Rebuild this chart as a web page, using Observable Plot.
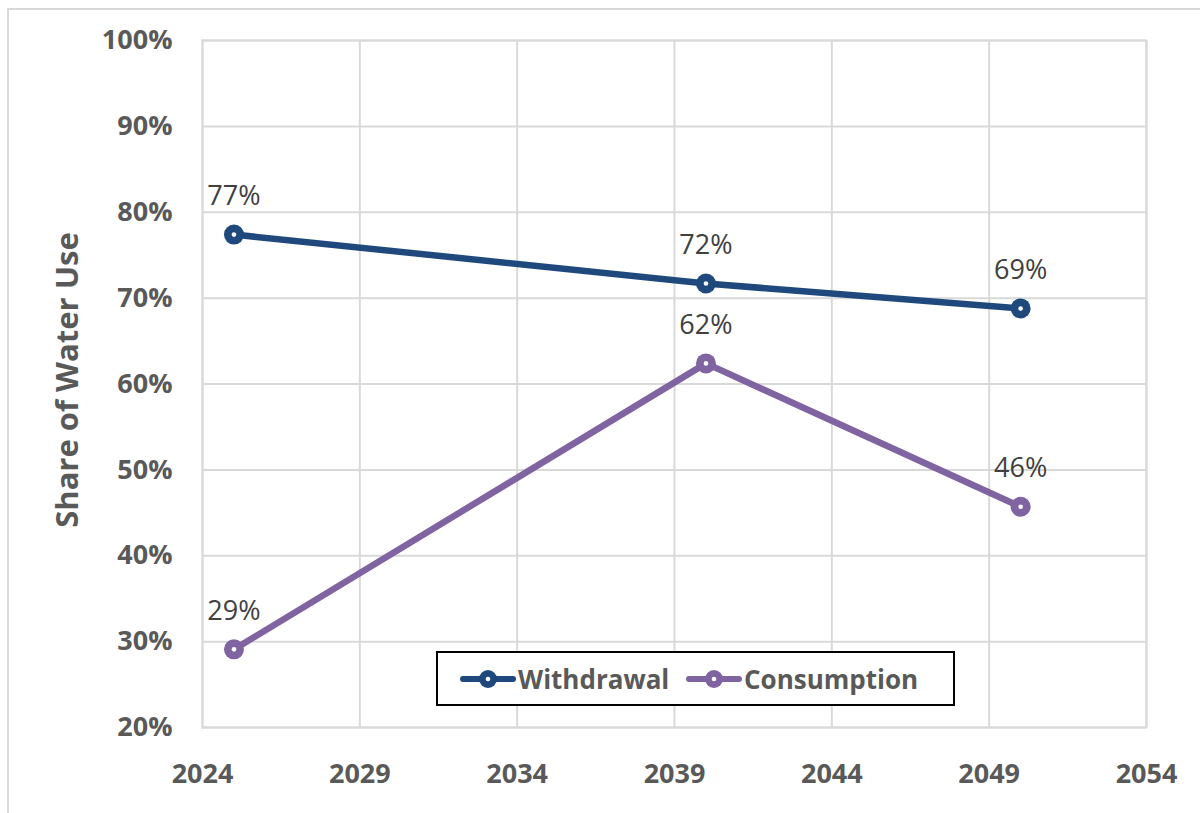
<!DOCTYPE html>
<html>
<head>
<meta charset="utf-8">
<script src="https://cdn.jsdelivr.net/npm/d3@7"></script>
<script src="https://cdn.jsdelivr.net/npm/@observablehq/plot@0.6"></script>
<style>
  html, body { margin: 0; padding: 0; background: #fff; }
  #wrap { position: relative; width: 1200px; height: 813px; overflow: hidden; font-family: "Open Sans", sans-serif; }
  #border { position: absolute; left: 7px; top: 8px; width: 1300px; height: 900px; border-left: 2px solid #d9d9d9; border-top: 2px solid #d9d9d9; }
  #legend { position: absolute; left: 436px; top: 651px; width: 515px; height: 51px; border: 2px solid #000; background: #fff; }
  .item { position: absolute; top: 0; height: 51px; display: flex; align-items: center; font-weight: bold; font-size: 26px; color: #595959; white-space: nowrap; }
  .item svg { margin-right: 2px; }
  #ytitle { position: absolute; left: 66px; top: 380px; transform: translate(-50%, -50%) rotate(-90deg); font-weight: bold; font-size: 31px; color: #595959; white-space: nowrap; }
</style>
</head>
<body>
<div id="wrap">
  <div id="border"></div>
  <div id="chart"></div>
  <div id="ytitle">Share of Water Use</div>
  <div id="legend"></div>
</div>
<script>
const years = [2025, 2040, 2050];
const withdrawal = [0.774, 0.717, 0.688];
const consumption = [0.291, 0.624, 0.457];
const seriesNames = ["Withdrawal", "Consumption"];
const seriesColors = ["#1F497D", "#8064A2"];
const xTicks = [2024, 2029, 2034, 2039, 2044, 2049, 2054];
const yTicks = [0.2, 0.3, 0.4, 0.5, 0.6, 0.7, 0.8, 0.9, 1.0];

const data = [];
years.forEach((y, i) => {
  data.push({year: y, value: withdrawal[i], series: seriesNames[0]});
  data.push({year: y, value: consumption[i], series: seriesNames[1]});
});

const pct = d => Math.round(d * 100) + "%";

const chart = Plot.plot({
  width: 1200,
  height: 813,
  marginLeft: 202,
  marginRight: 54,
  marginTop: 40,
  marginBottom: 86,
  style: { fontFamily: "'Open Sans', sans-serif", background: "transparent" },
  x: { domain: [2024, 2054] },
  y: { domain: [0.2, 1.0] },
  color: { domain: seriesNames, range: seriesColors },
  marks: [
    Plot.gridX(xTicks, { stroke: "#d9d9d9", strokeOpacity: 1, strokeWidth: 2 }),
    Plot.gridY(yTicks, { stroke: "#d9d9d9", strokeOpacity: 1, strokeWidth: 2 }),
    Plot.frame({ stroke: "#d9d9d9", strokeWidth: 2 }),
    Plot.axisX(xTicks, { tickSize: 0, tickPadding: 36, tickFormat: d => String(d), fontSize: 27, fontWeight: "bold", fill: "#595959", label: null }),
    Plot.axisY(yTicks, { tickSize: 0, tickPadding: 30, tickFormat: pct, fontSize: 27, fontWeight: "bold", fill: "#595959", label: null }),
    Plot.line(data, { x: "year", y: "value", z: "series", stroke: "series", strokeWidth: 6.5, strokeLinecap: "round", strokeLinejoin: "round" }),
    Plot.dot(data, { x: "year", y: "value", fill: "series", r: 10 }),
    Plot.dot(data, { x: "year", y: "value", fill: "white", r: 2.3 }),
    Plot.text(data, { x: "year", y: "value", text: d => pct(d.value), dy: -38, fontSize: 27, fill: "#404040", lineAnchor: "middle" })
  ]
});
document.getElementById("chart").appendChild(chart);

const legend = document.getElementById("legend");
const legendLeft = [22, 248];
seriesNames.forEach((name, i) => {
  const item = document.createElement("div");
  item.className = "item";
  item.style.left = legendLeft[i] + "px";
  item.innerHTML = `<svg width="56" height="20"><line x1="3" y1="10" x2="53" y2="10" stroke="${seriesColors[i]}" stroke-width="6" stroke-linecap="round"/><circle cx="28" cy="10" r="9" fill="${seriesColors[i]}"/><circle cx="28" cy="10" r="2.3" fill="#fff"/></svg><span>${name}</span>`;
  legend.appendChild(item);
});
</script>
</body>
</html>
